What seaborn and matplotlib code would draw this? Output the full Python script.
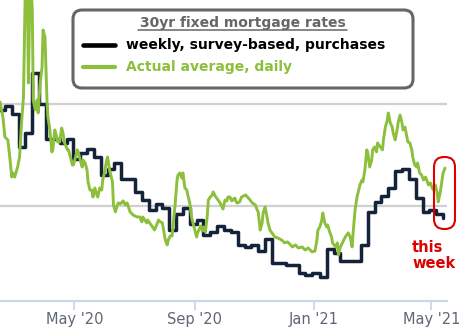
import numpy as np
import pandas as pd
import matplotlib
matplotlib.use("Agg")
import matplotlib.pyplot as plt
import seaborn as sns
from matplotlib.patches import FancyBboxPatch
from matplotlib.lines import Line2D
from matplotlib.transforms import IdentityTransform

# ---------------- data ----------------
weekly_dates = [
    "2020-02-13", "2020-02-20", "2020-02-27", "2020-03-05", "2020-03-12", "2020-03-19",
    "2020-03-26", "2020-04-02", "2020-04-09", "2020-04-16", "2020-04-23", "2020-04-30",
    "2020-05-07", "2020-05-14", "2020-05-21", "2020-05-28", "2020-06-04", "2020-06-11",
    "2020-06-18", "2020-06-25", "2020-07-02", "2020-07-09", "2020-07-16", "2020-07-23",
    "2020-07-30", "2020-08-06", "2020-08-13", "2020-08-20", "2020-08-27", "2020-09-03",
    "2020-09-10", "2020-09-17", "2020-09-24", "2020-10-01", "2020-10-08", "2020-10-15",
    "2020-10-22", "2020-10-29", "2020-11-05", "2020-11-12", "2020-11-19", "2020-11-25",
    "2020-12-03", "2020-12-10", "2020-12-17", "2020-12-23", "2020-12-30", "2021-01-07",
    "2021-01-14", "2021-01-21", "2021-01-28", "2021-02-04", "2021-02-11", "2021-02-18",
    "2021-02-25", "2021-03-04", "2021-03-11", "2021-03-18", "2021-03-25", "2021-04-01",
    "2021-04-08", "2021-04-15", "2021-04-22", "2021-04-29", "2021-05-06", "2021-05-13",
]
weekly_rates = [
    3.47, 3.49, 3.45, 3.29, 3.36, 3.65,
    3.50, 3.33, 3.33, 3.31, 3.33, 3.23,
    3.26, 3.28, 3.24, 3.15, 3.18, 3.21,
    3.13, 3.13, 3.07, 3.03, 2.98, 3.01,
    2.99, 2.88, 2.96, 2.99, 2.91, 2.93,
    2.86, 2.87, 2.90, 2.88, 2.87, 2.81,
    2.80, 2.81, 2.78, 2.84, 2.72, 2.72,
    2.71, 2.71, 2.67, 2.66, 2.67, 2.65,
    2.79, 2.77, 2.73, 2.73, 2.73, 2.81,
    2.97, 3.02, 3.05, 3.09, 3.17, 3.18,
    3.13, 3.04, 2.97, 2.98, 2.96, 2.94,
]

daily_start = "2020-02-15"   # day 0 of the daily series
daily_day = [
    0, 3, 5, 8, 10, 12, 13, 15, 17, 18, 20, 22, 24, 26, 28, 29, 31, 33, 34, 36,
    38, 39, 41, 43, 44, 46, 48, 49, 51, 53, 54, 56, 58, 59, 61, 63, 64, 66, 69, 70,
    72, 74, 75, 77, 79, 80, 82, 84, 85, 87, 89, 90, 92, 94, 95, 97, 99, 100, 102, 104,
    105, 107, 109, 110, 112, 115, 116, 118, 120, 121, 123, 126, 128, 130, 133, 136, 140, 143, 145, 146,
    150, 151, 153, 156, 158, 161, 162, 164, 166, 169, 171, 172, 174, 176, 177, 179, 181, 182, 184, 186,
    187, 189, 191, 192, 194, 196, 197, 199, 201, 202, 205, 207, 208, 210, 212, 213, 215, 217, 218, 220,
    223, 225, 227, 228, 230, 232, 233, 235, 237, 238, 240, 242, 243, 245, 247, 251, 254, 258, 261, 263,
    264, 266, 268, 269, 271, 273, 274, 276, 278, 281, 284, 288, 291, 294, 299, 302, 305, 309, 312, 315,
    319, 322, 324, 325, 327, 329, 330, 332, 334, 335, 337, 339, 340, 343, 345, 346, 348, 350, 353, 356,
    358, 360, 361, 363, 365, 366, 368, 370, 371, 373, 375, 376, 378, 380, 381, 383, 385, 386, 389, 391,
    392, 394, 396, 397, 399, 401, 402, 404, 406, 407, 409, 411, 412, 414, 416, 417, 419, 421, 422, 424,
    426, 427, 429, 431, 433, 435, 437, 438, 440, 442, 443, 445, 447, 448, 450, 452, 453, 455,
]
daily_rates = [
    3.510, 3.436, 3.338, 3.324, 3.240, 3.142, 3.162, 3.142, 3.176, 3.191, 3.240, 3.407, 3.534, 4.108, 4.059, 3.603, 4.157, 3.961, 3.520, 3.471,
    3.520, 3.456, 3.603, 3.681, 3.863, 3.828, 3.520, 3.436, 3.373, 3.265, 3.275, 3.373, 3.338, 3.314, 3.314, 3.382, 3.368, 3.309, 3.275, 3.275,
    3.240, 3.201, 3.201, 3.235, 3.275, 3.265, 3.225, 3.191, 3.225, 3.211, 3.176, 3.118, 3.078, 3.078, 3.044, 3.088, 3.054, 3.044, 3.088, 3.078,
    3.127, 3.167, 3.225, 3.240, 3.176, 3.118, 3.005, 2.971, 3.005, 3.015, 3.010, 3.025, 3.005, 3.015, 2.971, 2.956, 2.946, 2.946, 2.922, 2.946,
    2.917, 2.931, 2.917, 2.897, 2.882, 2.917, 2.931, 2.922, 2.917, 2.833, 2.809, 2.833, 2.853, 2.853, 2.907, 3.005, 3.127, 3.152, 3.162, 3.137,
    3.162, 3.088, 3.078, 3.054, 3.015, 2.941, 2.922, 2.882, 2.848, 2.868, 2.902, 2.877, 2.897, 2.873, 2.956, 3.029, 3.044, 3.054, 3.069, 3.049,
    3.029, 3.015, 2.995, 2.985, 3.029, 3.025, 3.044, 3.044, 3.025, 3.029, 3.039, 3.015, 3.015, 3.020, 3.044, 3.054, 3.039, 3.015, 3.005, 2.980,
    2.971, 2.882, 2.917, 2.966, 2.995, 2.946, 2.917, 2.882, 2.868, 2.848, 2.843, 2.833, 2.819, 2.824, 2.799, 2.809, 2.794, 2.799, 2.784, 2.794,
    2.775, 2.779, 2.833, 2.882, 2.897, 2.931, 2.966, 2.917, 2.897, 2.907, 2.873, 2.848, 2.819, 2.799, 2.819, 2.760, 2.799, 2.819, 2.848, 2.868,
    2.848, 2.799, 2.868, 2.980, 3.044, 3.064, 3.103, 3.127, 3.118, 3.176, 3.275, 3.260, 3.191, 3.225, 3.275, 3.289, 3.265, 3.309, 3.289, 3.275,
    3.324, 3.387, 3.422, 3.456, 3.407, 3.387, 3.358, 3.324, 3.373, 3.407, 3.446, 3.407, 3.373, 3.387, 3.338, 3.314, 3.309, 3.275, 3.240, 3.201,
    3.191, 3.211, 3.162, 3.152, 3.127, 3.142, 3.118, 3.103, 3.113, 3.088, 3.078, 3.103, 3.064, 3.020, 3.064, 3.127, 3.162, 3.186,
]

tick_dates = ["2020-05-01", "2020-09-01", "2021-01-01", "2021-05-01"]
tick_labels = ["May '20", "Sep '20", "Jan '21", "May '21"]
grid_levels = [3.0, 3.5]
x_range = ["2020-02-15", "2021-05-17"]
y_range = [2.534, 4.010]

legend_title = "30yr fixed mortgage rates"
weekly_label = "weekly, survey-based, purchases"
daily_label = "Actual average, daily"
note_lines = ["this", "week"]

# ---------------- styling ----------------
W, H = 470, 333
GREEN = "#8cbf3c"
NAVY = "#142339"
RED = "#dd0000"
GREY = "#666666"

sns.set_style("white")
plt.rcParams["font.family"] = ["DejaVu Sans"]

fig = plt.figure(figsize=(W / 100, H / 100), dpi=100)
ax = fig.add_axes([0, 32 / H, 447 / W, 301 / H])

weekly = pd.DataFrame({"date": pd.to_datetime(weekly_dates), "rate": weekly_rates})
daily = pd.DataFrame({
    "date": pd.Timestamp(daily_start) + pd.to_timedelta(daily_day, unit="D"),
    "rate": daily_rates,
})

sns.lineplot(data=weekly, x="date", y="rate", ax=ax, color=NAVY, linewidth=2.5,
             drawstyle="steps-post", zorder=3)
sns.lineplot(data=daily, x="date", y="rate", ax=ax, color=GREEN, linewidth=2.1,
             zorder=4)

ax.set_xlim(pd.Timestamp(x_range[0]), pd.Timestamp(x_range[1]))
ax.set_ylim(*y_range)
ax.set_xlabel("")
ax.set_ylabel("")

ax.set_yticks(grid_levels)
ax.yaxis.grid(True, color="#d0d0d0", linewidth=1.6)
ax.xaxis.grid(False)
ax.set_axisbelow(True)
ax.tick_params(axis="y", left=False, labelleft=False)

ax.set_xticks(pd.to_datetime(tick_dates))
ax.set_xticklabels(tick_labels)
ax.tick_params(axis="x", bottom=True, length=6.5, width=1.3, color="#ccd6eb",
               labelsize=10.5, labelcolor="#5f6675", pad=1.5)

for s in ["top", "left", "right"]:
    ax.spines[s].set_visible(False)
ax.spines["bottom"].set_color("#ccd6eb")
ax.spines["bottom"].set_linewidth(1.6)

# ------------- overlays in pixel coordinates -------------
T = IdentityTransform()


def py(y):
    return H - y


box = FancyBboxPatch((73, py(88)), 340, 78, boxstyle="round,pad=0,rounding_size=9",
                     transform=T, facecolor="white", edgecolor=GREY, linewidth=2.2,
                     zorder=10)
fig.patches.append(box)

fig.text(243, py(27), legend_title, transform=T, ha="center", va="baseline",
         fontsize=10, fontweight="bold", color=GREY, zorder=11)
fig.lines.append(Line2D([138, 347], [py(29.5), py(29.5)], transform=T, color=GREY,
                        linewidth=1.1, zorder=11))

fig.lines.append(Line2D([83, 115], [py(45), py(45)], transform=T, color="black",
                        linewidth=3.3, zorder=11))
fig.text(126, py(49), weekly_label, transform=T, ha="left", va="baseline",
         fontsize=10, fontweight="bold", color="black", zorder=11)

fig.lines.append(Line2D([83, 115], [py(67), py(67)], transform=T, color=GREEN,
                        linewidth=3.0, zorder=11))
fig.text(126, py(71.5), daily_label, transform=T, ha="left", va="baseline",
         fontsize=10, fontweight="bold", color=GREEN, zorder=11)

ring = FancyBboxPatch((434, py(229)), 21, 72, boxstyle="round,pad=0,rounding_size=10",
                      transform=T, facecolor="none", edgecolor=RED, linewidth=1.5,
                      zorder=12)
fig.patches.append(ring)

fig.text(412, py(252), note_lines[0], transform=T, ha="left", va="baseline",
         fontsize=10.5, fontweight="bold", color=RED, zorder=12)
fig.text(412, py(268), note_lines[1], transform=T, ha="left", va="baseline",
         fontsize=10.5, fontweight="bold", color=RED, zorder=12)

fig.savefig("out.png", dpi=100)
